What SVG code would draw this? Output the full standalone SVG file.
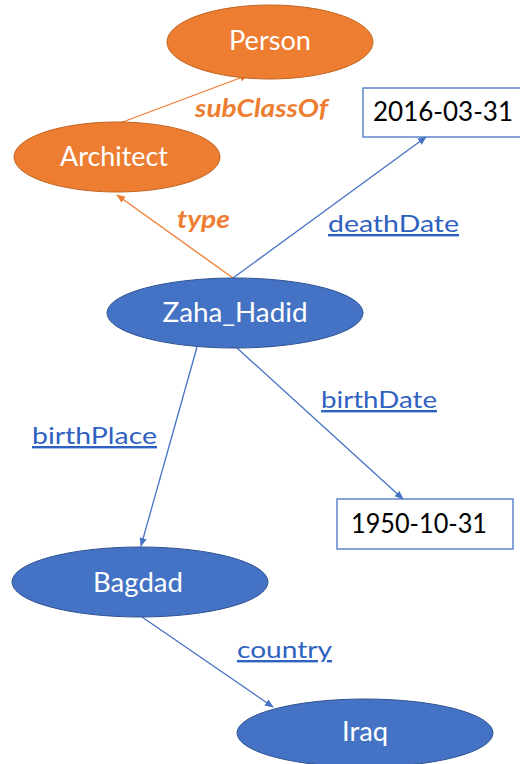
<svg xmlns="http://www.w3.org/2000/svg" width="520" height="764" viewBox="0 0 520 764">
<style>
.bg{fill:#ffffff}
.on{fill:#ED7D31;stroke:#C0641F;stroke-width:1}
.bn{fill:#4472C4;stroke:#2F528F;stroke-width:1}
.lit{fill:#ffffff;stroke:#4472C4;stroke-width:1.3}
.nt{font-family:Lato,"Liberation Sans",sans-serif;font-size:26px;fill:#ffffff;text-anchor:middle}
.lt{font-family:Lato,"Liberation Sans",sans-serif;font-size:26px;fill:#000000}
.ol{font-family:Lato,"Liberation Sans",sans-serif;font-size:24px;font-weight:bold;font-style:italic;fill:#ED7D31}
.bl{font-family:Lato,"Liberation Sans",sans-serif;font-size:24px;fill:#2F62C0;text-decoration:underline}
.oe{stroke:#ED7D31;stroke-width:1.3;fill:none}
.be{stroke:#4472C4;stroke-width:1.3;fill:none}
</style>
<defs>
<marker id="ao" viewBox="0 0 10 10" refX="9" refY="5" markerWidth="9" markerHeight="9" orient="auto" markerUnits="userSpaceOnUse"><path d="M0,1 L10,5 L0,9 z" fill="#ED7D31"/></marker>
<marker id="ab" viewBox="0 0 10 10" refX="9" refY="5" markerWidth="9" markerHeight="9" orient="auto" markerUnits="userSpaceOnUse"><path d="M0,1 L10,5 L0,9 z" fill="#4472C4"/></marker>
</defs>
<rect class="bg" x="0" y="0" width="520" height="764"/>
<g id="connectors">
<line class="oe" x1="120" y1="123" x2="248" y2="75" marker-end="url(#ao)"/>
<line class="oe" x1="233" y1="278" x2="117" y2="195" marker-end="url(#ao)"/>
<line class="be" x1="233" y1="278" x2="426" y2="137" marker-end="url(#ab)"/>
<line class="be" x1="197" y1="347" x2="141" y2="546" marker-end="url(#ab)"/>
<line class="be" x1="237" y1="348" x2="403" y2="499" marker-end="url(#ab)"/>
<line class="be" x1="142" y1="617" x2="273" y2="707" marker-end="url(#ab)"/>
<text class="ol" x="195" y="117" textLength="133" lengthAdjust="spacingAndGlyphs">subClassOf</text>
<text class="ol" x="177" y="228" textLength="53" lengthAdjust="spacingAndGlyphs">type</text>
<text class="bl" x="328" y="232" textLength="131" lengthAdjust="spacingAndGlyphs">deathDate</text>
<text class="bl" x="321" y="408" textLength="116" lengthAdjust="spacingAndGlyphs">birthDate</text>
<text class="bl" x="32" y="444" textLength="125" lengthAdjust="spacingAndGlyphs">birthPlace</text>
<text class="bl" x="237" y="658" textLength="95" lengthAdjust="spacingAndGlyphs">country</text>
</g>
<g id="person">
<ellipse class="on" cx="270" cy="42" rx="103" ry="37"/>
<text class="nt" x="270" y="50" textLength="82" lengthAdjust="spacingAndGlyphs">Person</text>
</g>
<g id="architect">
<ellipse class="on" cx="117" cy="157" rx="103" ry="35"/>
<text class="nt" x="114" y="166" textLength="108" lengthAdjust="spacingAndGlyphs">Architect</text>
</g>
<g id="deathdate">
<rect class="lit" x="363" y="88" width="160" height="49"/>
<text class="lt" x="373" y="121" textLength="140" lengthAdjust="spacingAndGlyphs">2016-03-31</text>
</g>
<g id="zaha">
<ellipse class="bn" cx="235" cy="313" rx="128" ry="35"/>
<text class="nt" x="235" y="322" textLength="145" lengthAdjust="spacingAndGlyphs">Zaha_Hadid</text>
</g>
<g id="birthdate">
<rect class="lit" x="337" y="499" width="176" height="50"/>
<text class="lt" x="351" y="533" textLength="136" lengthAdjust="spacingAndGlyphs">1950-10-31</text>
</g>
<g id="bagdad">
<ellipse class="bn" cx="140" cy="582" rx="128" ry="35"/>
<text class="nt" x="138" y="592" textLength="90" lengthAdjust="spacingAndGlyphs">Bagdad</text>
</g>
<g id="iraq">
<ellipse class="bn" cx="365" cy="733" rx="128" ry="34"/>
<text class="nt" x="365" y="741" textLength="46" lengthAdjust="spacingAndGlyphs">Iraq</text>
</g>
</svg>
